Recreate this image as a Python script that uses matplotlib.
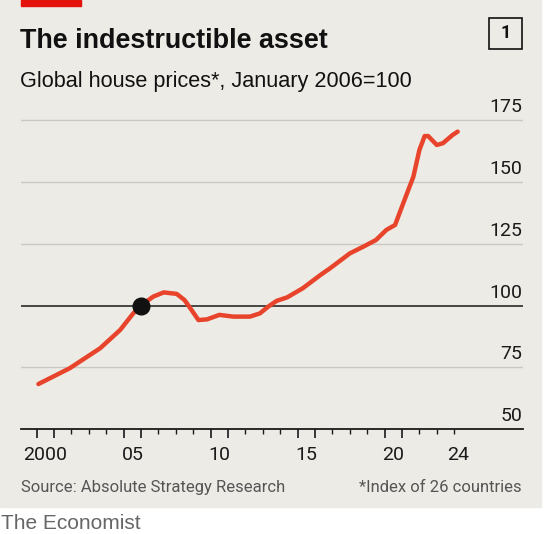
import numpy as np
import matplotlib
matplotlib.use("Agg")
import matplotlib.pyplot as plt
from matplotlib.patches import Rectangle
from matplotlib.transforms import offset_copy

# data
years = [2000.1, 2001.9, 2003.65, 2004.8, 2005.55, 2006.0, 2006.7, 2007.3,
         2008.05, 2008.5, 2008.9, 2009.3, 2009.8, 2010.5, 2011.3, 2012.26,
         2012.83, 2013.3, 2013.8, 2014.4, 2015.3, 2016.3, 2016.87, 2018.0,
         2018.77, 2019.5, 2020.1, 2020.6, 2021.07, 2021.65, 2022.0, 2022.3,
         2022.5, 2023.0, 2023.35, 2023.9, 2024.2]
prices = [68.2, 74.6, 82.7, 90.1, 96.8, 100.0, 103.6, 105.3,
          104.7, 102.2, 98.2, 94.1, 94.4, 96.2, 95.5, 95.5,
          96.8, 99.5, 101.9, 103.3, 107.0, 112.3, 115.1, 121.1,
          123.8, 126.5, 130.6, 132.6, 141.4, 152.1, 163.0, 168.6,
          168.6, 165.0, 165.7, 169.0, 170.4]
base_year = [2006.0]
base_value = [100.0]
ytick_vals = [50, 75, 100, 125, 150, 175]
xlabel_pos = [2000.5, 2005.5, 2010.5, 2015.5, 2020.5, 2024.2]
xlabel_txt = ["2000", "05", "10", "15", "20", "24"]
long_ticks = [2000, 2001, 2005, 2006, 2010, 2011, 2015, 2016, 2020, 2021]
short_ticks = [y for y in range(2000, 2025) if y not in long_ticks]

W, H = 544, 534
BG = "#edebe6"
RED = "#e8442b"
FONT = "Roboto"
WIDE = "Liberation Sans"

plt.rcParams['font.family'] = FONT

def fx(px):
    return px / W

def fy(py):
    return 1 - py / H

fig = plt.figure(figsize=(W / 100, H / 100), dpi=100)
fig.patch.set_facecolor("white")
fig.patches.append(Rectangle((0, fy(507)), fx(541), 1 - fy(507),
                             transform=fig.transFigure, color=BG, zorder=-2))
fig.patches.append(Rectangle((fx(21), fy(6)), fx(81) - fx(21), 1 - fy(6),
                             transform=fig.transFigure, color="#e3120b", zorder=-1))

# axes box: x 21..522.6 px, y 107.9..429 px
ax = fig.add_axes([fx(21), fy(429), fx(522.6) - fx(21), fy(107.9) - fy(429)])
ax.set_zorder(2)
ax.set_facecolor("none")
ax.set_xlim(1999.10, 2027.93)
ax.set_ylim(50, 180)

for v in ytick_vals[1:]:
    if v == 100:
        ax.axhline(v, color="#2a2a2a", lw=1.2, zorder=1)
    else:
        ax.axhline(v, color="#cac8c3", lw=1.0, zorder=1)

ax.plot(years, prices, color=RED, lw=3.2, solid_capstyle="round",
        solid_joinstyle="round", zorder=3)
ax.plot(base_year, base_value, "o", color="#111111", ms=12, zorder=4)

for s in ["top", "left", "right"]:
    ax.spines[s].set_visible(False)
ax.spines["bottom"].set_color("#1a1a1a")
ax.spines["bottom"].set_linewidth(1.3)
ax.set_yticks([])
ax.set_xticks(long_ticks)
ax.set_xticks(short_ticks, minor=True)
ax.tick_params(axis="x", which="major", length=6.5, width=1.2, color="#1a1a1a",
               labelbottom=False)
ax.tick_params(axis="x", which="minor", length=3.5, width=1.0, color="#1a1a1a")

ytr = offset_copy(ax.get_yaxis_transform(), fig=fig, x=0, y=4, units="dots")
for v in ytick_vals:
    ax.text(1.0, v, str(v), transform=ytr, ha="right", va="bottom",
            fontsize=14, color="#1a1a1a")

xtr = offset_copy(ax.get_xaxis_transform(), fig=fig, x=0, y=-17, units="dots")
for p, t in zip(xlabel_pos, xlabel_txt):
    ax.text(p, 0, t, transform=xtr, ha="center", va="top",
            fontsize=14, color="#1a1a1a")

fig.text(fx(20), fy(47.6), "The indestructible asset", fontsize=19.4,
         fontweight="bold", family=WIDE, color="#111111", va="baseline")
fig.text(fx(20), fy(86.5), "Global house prices*, January 2006=100", fontsize=15.6,
         family=WIDE, color="#111111", va="baseline")
fig.patches.append(Rectangle((fx(489), fy(49)), fx(522) - fx(489), fy(18) - fy(49),
                             transform=fig.transFigure, fill=False,
                             edgecolor="#111111", lw=1.2, zorder=2))
fig.text(fx(505.5), fy(33.5), "1", fontsize=13, fontweight="bold",
         color="#111111", ha="center", va="center")
fig.text(fx(21), fy(492), "Source: Absolute Strategy Research", fontsize=12,
         color="#555555", va="baseline")
fig.text(fx(522), fy(492), "*Index of 26 countries", fontsize=12,
         color="#555555", va="baseline", ha="right")
fig.text(fx(1), fy(529), "The Economist", fontsize=15, family=WIDE,
         color="#666666", va="baseline")

fig.savefig("out.png", dpi=100, facecolor=fig.get_facecolor())
